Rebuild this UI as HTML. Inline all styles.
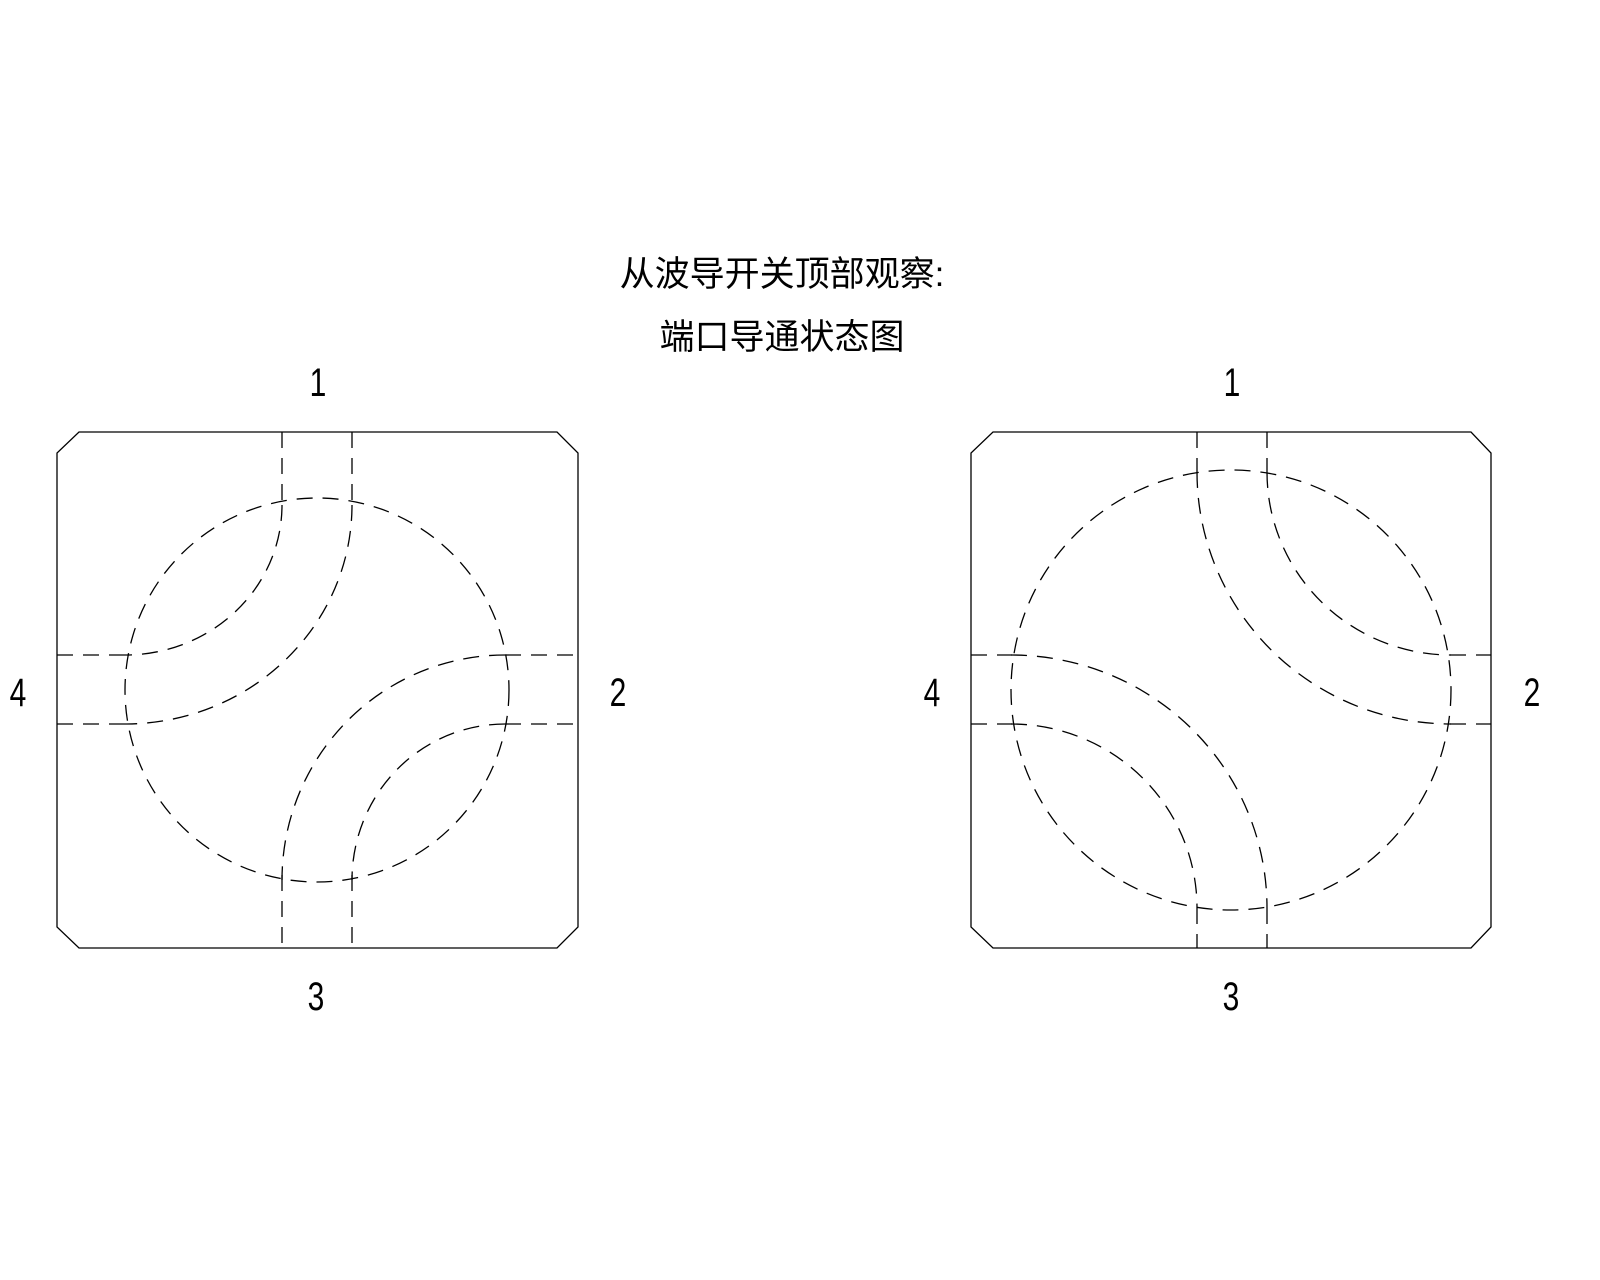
<!DOCTYPE html>
<html><head><meta charset="utf-8"><style>
html,body{margin:0;padding:0;background:#fff;}
svg{display:block}
text{font-family:"Liberation Sans","Noto Sans CJK SC",sans-serif;fill:#000}
</style></head><body>
<svg width="1600" height="1280" viewBox="0 0 1600 1280" xmlns="http://www.w3.org/2000/svg">
<g stroke="#000" stroke-width="1.3" fill="none">
<path d="M79,432 H557 L578,453 V927 L557,948 H79 L57,927 V453 Z"/>
<path d="M993,432 H1471 L1491,453 V927 L1471,948 H993 L971,927 V453 Z"/>
<g stroke-dasharray="16,10">
<line x1="282" y1="432" x2="282" y2="509"/>
<line x1="352" y1="432" x2="352" y2="509"/>
<line x1="282" y1="875" x2="282" y2="948"/>
<line x1="352" y1="875" x2="352" y2="948"/>
<line x1="57" y1="655" x2="125" y2="655"/>
<line x1="57" y1="724" x2="125" y2="724"/>
<line x1="505" y1="655" x2="578" y2="655"/>
<line x1="505" y1="724" x2="578" y2="724"/>
<ellipse cx="317" cy="690" rx="192" ry="192"/>
<path d="M282,505 A157,150 0 0 1 125,655"/>
<path d="M352,505 A227,219 0 0 1 125,724"/>
<path d="M505,655 A223,225 0 0 0 282,880"/>
<path d="M505,724 A153,156 0 0 0 352,880"/>
<line x1="1197" y1="432" x2="1197" y2="472"/>
<line x1="1267" y1="432" x2="1267" y2="472"/>
<line x1="1197" y1="908" x2="1197" y2="948"/>
<line x1="1267" y1="908" x2="1267" y2="948"/>
<line x1="971" y1="655" x2="1012" y2="655"/>
<line x1="971" y1="724" x2="1012" y2="724"/>
<line x1="1450" y1="655" x2="1491" y2="655"/>
<line x1="1450" y1="724" x2="1491" y2="724"/>
<ellipse cx="1231" cy="690" rx="220" ry="220"/>
<path d="M1197,472 A254,252 0 0 0 1451,724"/>
<path d="M1267,472 A184,183 0 0 0 1451,655"/>
<path d="M1011,655 A256,253 0 0 1 1267,908"/>
<path d="M1011,724 A186,184 0 0 1 1197,908"/>
</g>
</g>
<g font-size="35" text-anchor="middle">
<text x="782" y="286">从波导开关顶部观察:</text>
<text x="782" y="349">端口导通状态图</text>
</g>
<g font-size="40" text-anchor="middle">
<text x="318" y="396" transform="translate(318 0) scale(0.75 1) translate(-318 0)">1</text>
<text x="618" y="706" transform="translate(618 0) scale(0.75 1) translate(-618 0)">2</text>
<text x="316" y="1010" transform="translate(316 0) scale(0.75 1) translate(-316 0)">3</text>
<text x="18" y="706" transform="translate(18 0) scale(0.75 1) translate(-18 0)">4</text>
<text x="1232" y="396" transform="translate(1232 0) scale(0.75 1) translate(-1232 0)">1</text>
<text x="1532" y="706" transform="translate(1532 0) scale(0.75 1) translate(-1532 0)">2</text>
<text x="1231" y="1010" transform="translate(1231 0) scale(0.75 1) translate(-1231 0)">3</text>
<text x="932" y="706" transform="translate(932 0) scale(0.75 1) translate(-932 0)">4</text>
</g>
</svg>
</body></html>
